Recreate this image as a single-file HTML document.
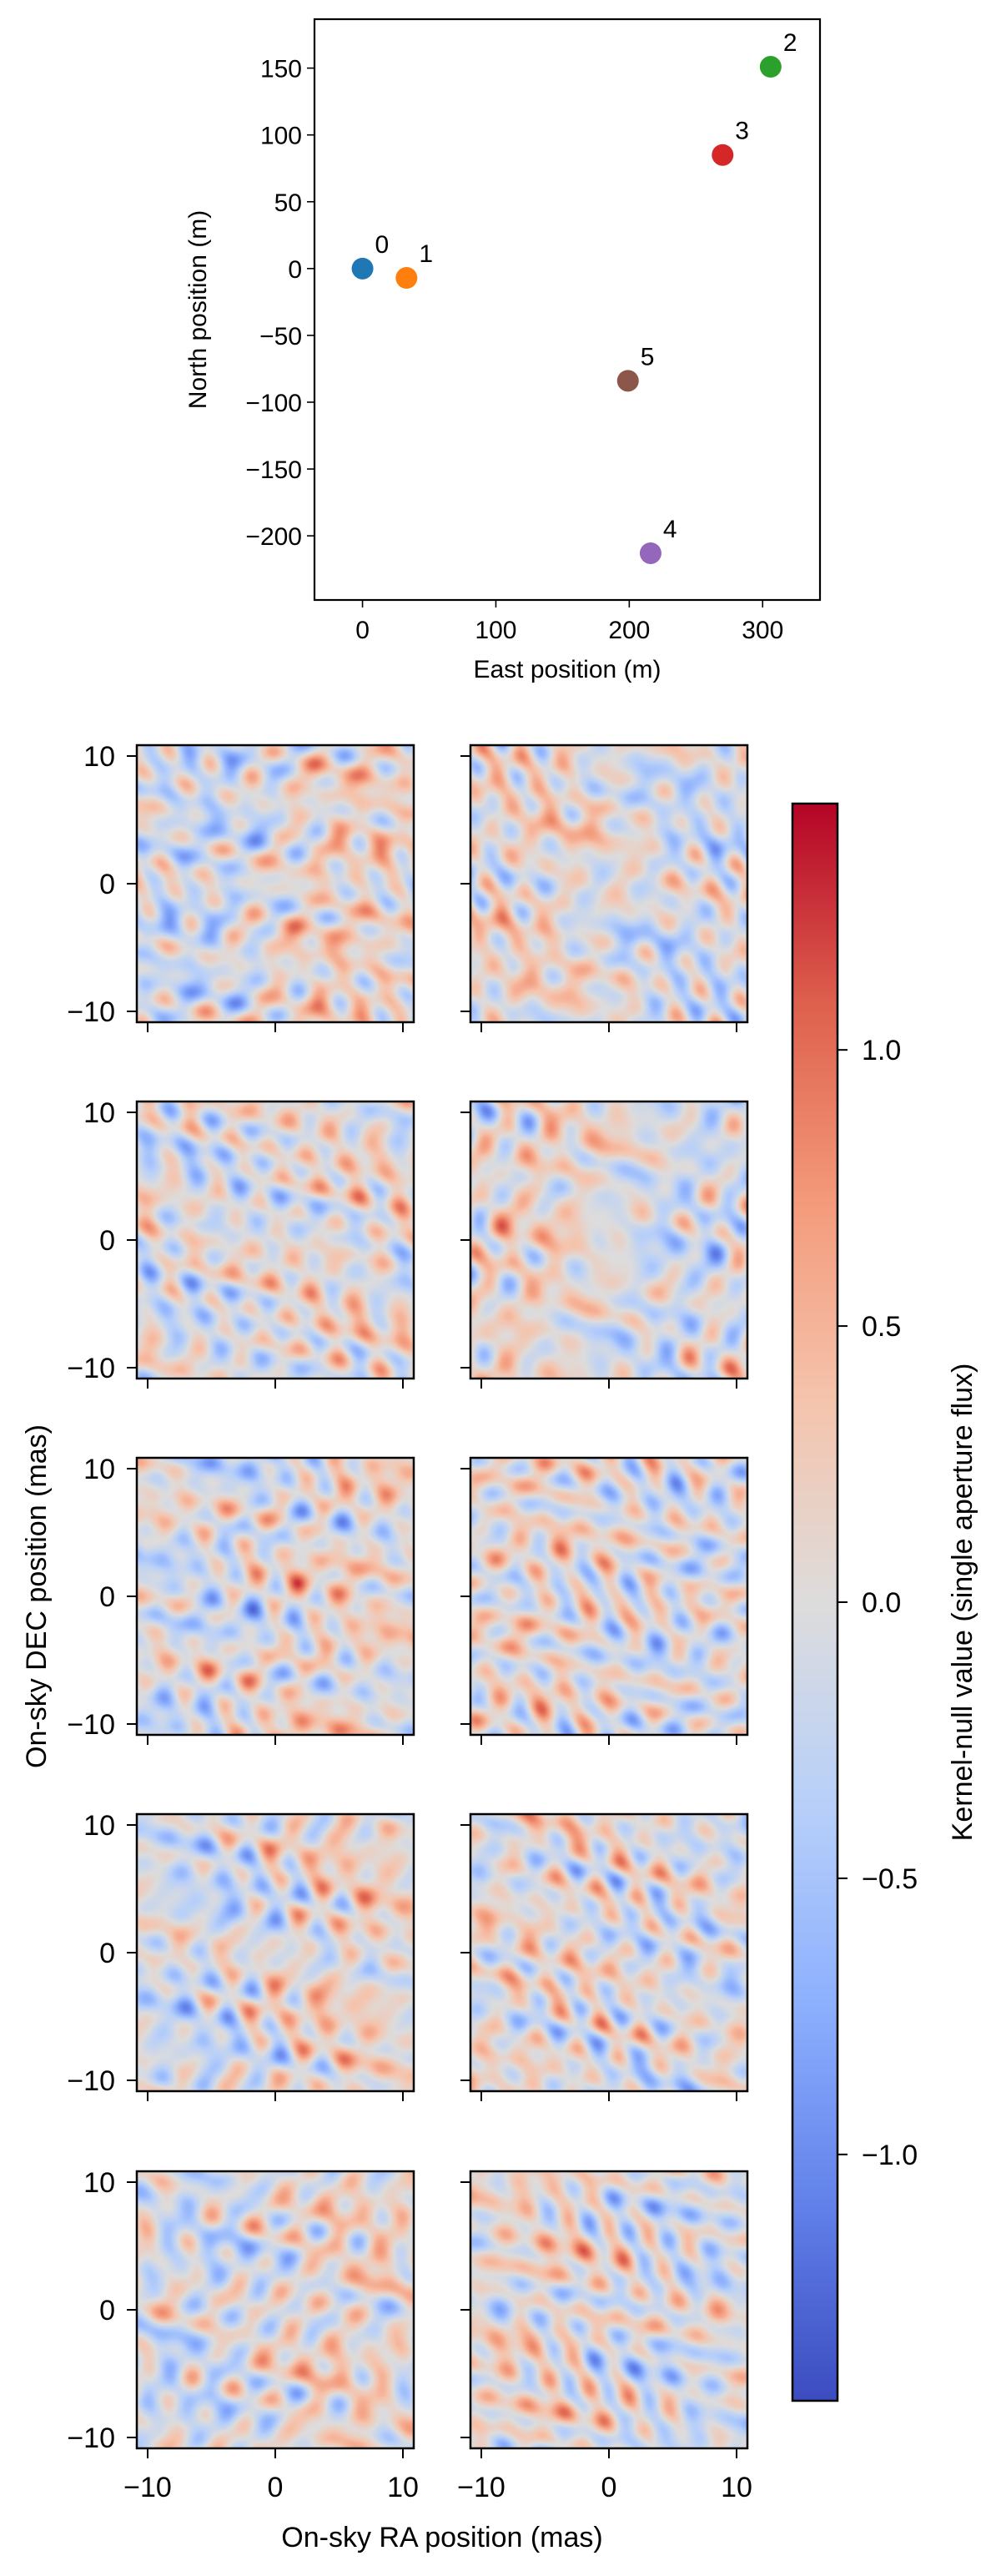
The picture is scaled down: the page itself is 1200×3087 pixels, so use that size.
<!DOCTYPE html>
<html><head><meta charset="utf-8">
<style>
html,body{margin:0;padding:0;background:#fff;}
#root{position:relative;width:1200px;height:3087px;overflow:hidden;background:#fff;}
canvas{position:absolute;}
svg{position:absolute;left:0;top:0;}
text{font-family:"Liberation Sans","DejaVu Sans",sans-serif;fill:#000;}
</style></head>
<body>
<div id="root">
<div id="cbar" style="position:absolute;left:950px;top:963px;width:54px;height:1914px;background:linear-gradient(to bottom,#b40426 0%,#de604d 12.5%,#f49a7b 25%,#f5c4ad 37.5%,#dddcdc 50%,#b8d0f9 62.5%,#8db0fe 75%,#6282ea 87.5%,#3b4cc0 100%);"></div>
<svg id="svg" width="1200" height="3087"></svg>
</div>
<script>
// ---- array layout data ----
const telescopeIds = ["0","1","2","3","4","5"];
const eastPos = [0, 33, 306, 270, 216, 199];
const northPos = [0, -7, 151, 85, -213, -84];
const telColors = ["#1f77b4","#ff7f0e","#2ca02c","#d62728","#9467bd","#8c564b"];
const eastTicks = [0, 100, 200, 300];
const northTicks = [-200, -150, -100, -50, 0, 50, 100, 150];
const skyTicks = [-10, 0, 10];
const cbarTicks = [-1.0, -0.5, 0.0, 0.5, 1.0];
// kernel-null coefficients per baseline pair (10 kernels x 15 baselines)
const kn0 = [0.30,-0.18,0.22,0.10,-0.25,0.15,-0.12,0.28,-0.20,0.08,0.24,-0.16,0.12,-0.22,0.18];
const kn1 = [-0.20,0.26,-0.10,0.24,0.14,-0.28,0.20,-0.08,0.16,-0.24,0.10,0.22,-0.18,0.12,-0.14];
const kn2 = [0.12,0.22,-0.26,-0.14,0.20,0.10,0.26,-0.18,-0.12,0.22,-0.20,0.08,0.24,-0.16,-0.10];
const kn3 = [-0.26,-0.12,0.18,0.22,-0.10,0.24,-0.16,-0.20,0.28,0.12,-0.08,-0.22,0.14,0.20,0.16];
const kn4 = [0.18,-0.24,-0.14,0.26,0.22,-0.12,-0.20,0.16,0.10,-0.26,0.22,0.14,-0.10,-0.18,0.24];
const kn5 = [-0.14,0.20,0.28,-0.18,-0.16,0.22,0.12,0.24,-0.22,-0.10,-0.26,0.18,0.20,0.10,-0.20];
const kn6 = [0.24,0.14,-0.20,-0.26,0.12,0.18,-0.24,-0.10,0.20,0.26,0.14,-0.12,-0.22,0.16,0.10];
const kn7 = [-0.10,-0.28,0.14,0.12,0.26,-0.20,0.18,0.22,-0.14,0.16,-0.24,-0.18,0.10,0.26,-0.12];
const kn8 = [0.22,0.10,0.24,-0.22,-0.18,-0.14,0.10,-0.26,0.24,0.18,0.12,0.26,-0.16,-0.20,0.14];
const kn9 = [-0.16,0.24,-0.22,0.18,0.10,0.26,-0.14,0.12,-0.18,-0.22,0.20,-0.10,0.28,0.14,-0.24];
const kernels = [kn0,kn1,kn2,kn3,kn4,kn5,kn6,kn7,kn8,kn9];
const cmap = [[59,76,192],[98,130,234],[141,176,254],[184,208,249],[221,220,220],[245,196,173],[244,154,123],[222,96,77],[180,4,38]];

const NS="http://www.w3.org/2000/svg";
const svg=document.getElementById('svg');
function el(tag,attrs,txt){const e=document.createElementNS(NS,tag);for(const k in attrs)e.setAttribute(k,attrs[k]);if(txt!==undefined)e.textContent=txt;svg.appendChild(e);return e;}
function fmtMinus(v){return (v<0?"\u2212":"")+Math.abs(v);}

// ---- top scatter ----
const AX={l:377,r:983,t:23,b:719,x0:-36,x1:343,y0:-248,y1:186.6};
const sx=v=>AX.l+(v-AX.x0)/(AX.x1-AX.x0)*(AX.r-AX.l);
const sy=v=>AX.b-(v-AX.y0)/(AX.y1-AX.y0)*(AX.b-AX.t);
let r=el('rect',{x:AX.l,y:AX.t,width:AX.r-AX.l,height:AX.b-AX.t,fill:'none',stroke:'#000','stroke-width':2.2});

eastTicks.forEach(v=>{
  const x=sx(v);
  const t=el('line',{x1:x,x2:x,y1:AX.b,y2:AX.b+9,stroke:'#000','stroke-width':1.6});
  
  const l=el('text',{x:x,y:AX.b+46,'font-size':30,'text-anchor':'middle'},fmtMinus(v));
  
});
northTicks.forEach(v=>{
  const y=sy(v);
  const t=el('line',{x1:AX.l-9,x2:AX.l,y1:y,y2:y,stroke:'#000','stroke-width':1.6});
  
  const l=el('text',{x:AX.l-15,y:y+11,'font-size':30,'text-anchor':'end'},fmtMinus(v));
  
});
let xl=el('text',{x:(AX.l+AX.r)/2,y:812,'font-size':30,'text-anchor':'middle'},'East position (m)');

let yl=el('text',{x:0,y:0,'font-size':30,'text-anchor':'middle',transform:'translate(247,'+((AX.t+AX.b)/2)+') rotate(-90)'},'North position (m)');

eastPos.forEach((e,i)=>{
  const c=el('circle',{cx:sx(e),cy:sy(northPos[i]),r:13,fill:telColors[i]});
  
  const t=el('text',{x:sx(e)+15,y:sy(northPos[i])-19,'font-size':30},telescopeIds[i]);
  
});

// ---- heatmaps ----
const pairs=[];for(let i=0;i<6;i++)for(let j=i+1;j<6;j++)pairs.push([i,j]);
const lam=3.8e-6, mas=4.8481e-9;
const freqs=pairs.map(([i,j])=>[2*Math.PI*(eastPos[j]-eastPos[i])/lam*mas,2*Math.PI*(northPos[j]-northPos[i])/lam*mas]);
const EXT=10.85, VMAX=1.446, PS=332, GAIN=0.62;
const colL=[164,564], rowT=[893,1320,1747,2174,2602];
function color(v){let t=(v/VMAX+1)/2;t=Math.max(0,Math.min(1,t));const f=t*8;const k=Math.min(7,Math.floor(f));const a=f-k;const c0=cmap[k],c1=cmap[k+1];return [c0[0]+(c1[0]-c0[0])*a,c0[1]+(c1[1]-c0[1])*a,c0[2]+(c1[2]-c0[2])*a];}
const root=document.getElementById('root');
kernels.forEach((coef,k)=>{
  const row=Math.floor(k/2),col=k%2;
  const L=colL[col],T=rowT[row];
  const cv=document.createElement('canvas');cv.width=PS;cv.height=PS;
  cv.style.left=L+'px';cv.style.top=T+'px';cv.style.width=PS+'px';cv.style.height=PS+'px';
  
  
  root.insertBefore(cv,svg);
  const ctx=cv.getContext('2d');const img=ctx.createImageData(PS,PS);
  for(let py=0;py<PS;py++){const y=EXT-(py+0.5)/PS*2*EXT;
    for(let px=0;px<PS;px++){const x=-EXT+(px+0.5)/PS*2*EXT;
      let v=0;for(let b=0;b<15;b++)v+=coef[b]*Math.sin(freqs[b][0]*x+freqs[b][1]*y);
      const c=color(v*GAIN);const o=(py*PS+px)*4;img.data[o]=c[0];img.data[o+1]=c[1];img.data[o+2]=c[2];img.data[o+3]=255;}}
  ctx.putImageData(img,0,0);
  const fr=el('rect',{x:L,y:T,width:PS,height:PS,fill:'none',stroke:'#000','stroke-width':2.5});
  
  const scale=PS/(2*EXT);
  skyTicks.forEach(v=>{
    const x=L+(v+EXT)*scale, y=T+(EXT-v)*scale;
    const tx=el('line',{x1:x,x2:x,y1:T+PS,y2:T+PS+12,stroke:'#000','stroke-width':2});
    
    const ty=el('line',{x1:L-12,x2:L,y1:y,y2:y,stroke:'#000','stroke-width':2});
    
    if(col===0){const t=el('text',{x:L-26,y:y+12,'font-size':34,'text-anchor':'end'},fmtMinus(v));
      }
    if(row===4){const t=el('text',{x:x,y:T+PS+58,'font-size':34,'text-anchor':'middle'},fmtMinus(v));
      }
  });
});
let rx=el('text',{x:530,y:3052,'font-size':34,'text-anchor':'middle'},'On-sky RA position (mas)');

let dy=el('text',{x:0,y:0,'font-size':34,'text-anchor':'middle',transform:'translate(55,1913) rotate(-90)'},'On-sky DEC position (mas)');


// ---- colorbar axis ----
const CB={l:950,r:1004,t:963,b:2877};
const cy=v=>(CB.t+CB.b)/2-v/VMAX*(CB.b-CB.t)/2;
let cf=el('rect',{x:CB.l,y:CB.t,width:CB.r-CB.l,height:CB.b-CB.t,fill:'none',stroke:'#000','stroke-width':2.5});

cbarTicks.forEach(v=>{
  const y=cy(v);
  const t=el('line',{x1:CB.r,x2:CB.r+12,y1:y,y2:y,stroke:'#000','stroke-width':2});
  
  const l=el('text',{x:1033,y:y+12,'font-size':34},(v<0?"\u2212":"")+Math.abs(v).toFixed(1));
  
});
let cl=el('text',{x:0,y:0,'font-size':34,'text-anchor':'middle',transform:'translate(1165,1920) rotate(-90)'},'Kernel-null value (single aperture flux)');

</script>
</body></html>
